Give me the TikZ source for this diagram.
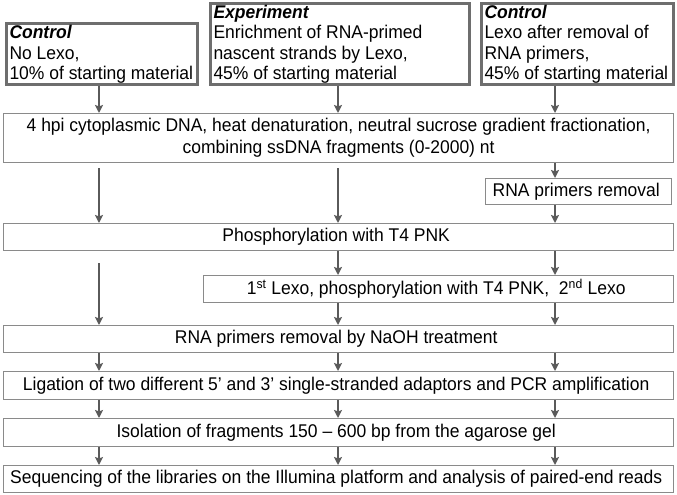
\documentclass[tikz,border=0pt]{standalone}
\usepackage{fontspec}
\setmainfont{Liberation Sans}[FakeStretch = 0.95]
\usetikzlibrary{arrows.meta}

\definecolor{armgray}{HTML}{6E6E6E}
\definecolor{stagegray}{HTML}{8A8A8A}
\definecolor{flowgray}{HTML}{5A5A5A}

\begin{document}
\begin{tikzpicture}[x = 1pt, y = -1pt,
    every node/.style = { font = \fontsize{18.4}{20.5}\selectfont },
    armbox/.style = { draw = armgray, line width = 3pt, anchor = south west,
                      inner xsep = 3.5pt, inner ysep = 1.5pt, text depth = 2.8pt },
    stagebox/.style = { draw = stagegray, line width = 1.2pt, align = center, anchor = north west,
                        inner sep = 0pt, minimum height = 27pt },
    flow/.style = { draw = flowgray, line width = 1.7pt,
                    -{Stealth[length = 8pt, width = 8pt, inset = 1.5pt]} }]
    \useasboundingbox (0,0) rectangle (677,495);

    % three arms of the experiment
    \node [armbox] (ctrlA) at (4.5,85.5)
      { \parbox[b]{184pt}{\textbf{\textit{Control}} \\ No Lexo, \\ 10\% of starting material} };
    \node [armbox] (expt) at (208.5,85.5)
      { \parbox[b]{252pt}{\textbf{\textit{Experiment}} \\ Enrichment of RNA-primed \\
        nascent strands by Lexo, \\ 45\% of starting material} };
    \node [armbox] (ctrlB) at (479.5,85.5)
      { \parbox[b]{185pt}{\textbf{\textit{Control}} \\ Lexo after removal of \\
        RNA primers, \\ 45\% of starting material} };

    % columns of the arrows
    \coordinate (colA) at (99,0);
    \coordinate (colB) at (338,0);
    \coordinate (colC) at (555,0);

    % stages
    \node [stagebox, minimum width = 670pt, minimum height = 49pt,
           font = \fontsize{18.4}{22}\selectfont] (hpi) at (3,113)
      { 4 hpi cytoplasmic DNA, heat denaturation, neutral sucrose gradient fractionation, \\
        combining ssDNA fragments (0-2000) nt };
    \node [stagebox, minimum width = 186pt, minimum height = 26pt] (rnarm) at (485,178)
      { RNA primers removal };
    \node [stagebox, minimum width = 670pt] (phos) at (3,223)
      { Phosphorylation with T4 PNK };
    \node [stagebox, minimum width = 470pt] (lexo) at (203,275)
      { 1\textsuperscript{st} Lexo, phosphorylation with T4 PNK,\ \ 2\textsuperscript{nd} Lexo };
    \node [stagebox, minimum width = 670pt] (naoh) at (3,325)
      { RNA primers removal by NaOH treatment };
    \node [stagebox, minimum width = 670pt, minimum height = 28pt] (lig) at (3,371)
      { Ligation of two different 5’ and 3’ single-stranded adaptors and PCR amplification };
    \node [stagebox, minimum width = 670pt, minimum height = 28pt] (iso) at (3,418)
      { Isolation of fragments 150 – 600 bp from the agarose gel };
    \node [stagebox, minimum width = 670pt] (seq) at (3,465)
      { Sequencing of the libraries on the Illumina platform and analysis of paired-end reads };

    % arrows
    \draw [flow] (ctrlA.south -| colA) -- (hpi.north -| colA);
    \draw [flow] (expt.south -| colB) -- (hpi.north -| colB);
    \draw [flow] (ctrlB.south -| colC) -- (hpi.north -| colC);
    \draw [flow, shorten <= 5pt] (hpi.south -| colA) -- (phos.north -| colA);
    \draw [flow, shorten <= 5pt] (hpi.south -| colB) -- (phos.north -| colB);
    \draw [flow] (hpi.south -| colC) -- (rnarm.north -| colC);
    \draw [flow] (rnarm.south -| colC) -- (phos.north -| colC);
    \draw [flow, shorten <= 12pt] (phos.south -| colA) -- (naoh.north -| colA);
    \draw [flow] (phos.south -| colB) -- (lexo.north -| colB);
    \draw [flow] (phos.south -| colC) -- (lexo.north -| colC);
    \draw [flow] (lexo.south -| colB) -- (naoh.north -| colB);
    \draw [flow] (lexo.south -| colC) -- (naoh.north -| colC);
    \foreach \col in {colA, colB, colC} {
      \draw [flow] (naoh.south -| \col) -- (lig.north -| \col);
      \draw [flow] (lig.south -| \col) -- (iso.north -| \col);
      \draw [flow] (iso.south -| \col) -- (seq.north -| \col);
    }
\end{tikzpicture}
\end{document}
